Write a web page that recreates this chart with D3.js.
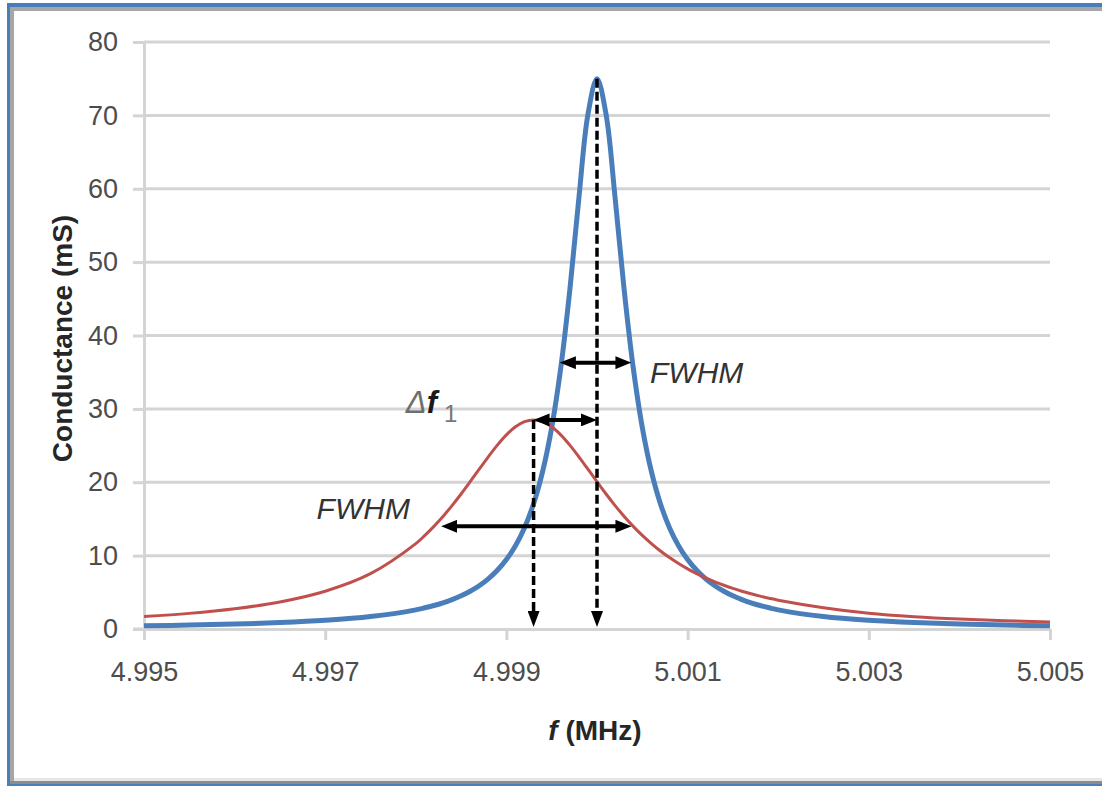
<!DOCTYPE html>
<html>
<head>
<meta charset="utf-8">
<script src="https://cdn.jsdelivr.net/npm/d3@7"></script>
<style>
  html, body { margin: 0; padding: 0; background: #ffffff; }
  svg { display: block; }
  text { font-family: "Liberation Sans", Arial, sans-serif; }
</style>
</head>
<body>
<script>
// Frequency sweep (MHz): coarse in the tails, fine around the resonances
const freq = [
  4.9950, 4.9955, 4.9960, 4.9965, 4.9970, 4.9975,
  4.9980, 4.9981, 4.9982, 4.9983, 4.9984, 4.9985, 4.9986, 4.9987, 4.9988, 4.9989,
  4.9990, 4.9991, 4.9992, 4.9993, 4.9994, 4.9995, 4.9996, 4.9997, 4.9998, 4.9999,
  5.0000, 5.0001, 5.0002, 5.0003, 5.0004, 5.0005, 5.0006, 5.0007, 5.0008, 5.0009,
  5.0010, 5.0011, 5.0012, 5.0013, 5.0014, 5.0015, 5.0016, 5.0017, 5.0018, 5.0019,
  5.0020, 5.0025, 5.0030, 5.0035, 5.0040, 5.0045, 5.0050
];

// Conductance (mS) of the unloaded resonator (blue)
const gUnloaded = [
  0.43, 0.53, 0.67, 0.87, 1.18, 1.69,
  2.61, 2.89, 3.20, 3.57, 4.01, 4.52, 5.15, 5.90, 6.84, 8.00,
  9.46, 11.35, 13.81, 17.07, 21.47, 27.46, 35.58, 46.20, 58.73, 70.14,
  75.00, 70.14, 58.73, 46.20, 35.58, 27.46, 21.47, 17.07, 13.81, 11.35,
  9.46, 8.00, 6.84, 5.90, 5.15, 4.52, 4.01, 3.57, 3.20, 2.89,
  2.61, 1.69, 1.18, 0.87, 0.67, 0.53, 0.43
];

// Conductance (mS) of the loaded resonator (red)
const gLoaded = [
  1.69, 2.13, 2.76, 3.69, 5.15, 7.54,
  11.64, 12.75, 13.99, 15.34, 16.82, 18.40, 20.07, 21.78, 23.47, 25.06,
  26.46, 27.56, 28.26, 28.50, 28.26, 27.56, 26.46, 25.06, 23.47, 21.78,
  20.07, 18.40, 16.82, 15.34, 13.99, 12.75, 11.64, 10.63, 9.73, 8.92,
  8.20, 7.54, 6.96, 6.43, 5.96, 5.53, 5.15, 4.80, 4.48, 4.19,
  3.93, 2.91, 2.15, 1.68, 1.36, 1.14, 0.96
];

// Axis ticks
const xTicks = [4.995, 4.997, 4.999, 5.001, 5.003, 5.005];
const yTicks = [0, 10, 20, 30, 40, 50, 60, 70, 80];

// Resonance markers: peak frequencies and peak heights
const peakUnloaded = { f: 5.0000, g: 75 };
const peakLoaded = { f: 4.9993, g: 28.5 };

// Width arrows (frequency span at a conductance level)
const fwhmUnloaded = { f0: 4.99959, f1: 5.00038, g: 36.3 };
const fwhmLoaded = { f0: 4.99828, f1: 5.00038, g: 14.0 };

const W = 1102, H = 786;
const plot = { left: 144, right: 1050, top: 42, bottom: 629 };

const svg = d3.select("body").append("svg")
  .attr("width", W).attr("height", H);

svg.append("rect").attr("width", W).attr("height", H).attr("fill", "#ffffff");

// Chart frame (selection border)
svg.append("rect").attr("x", 7).attr("y", 3).attr("width", W - 7).attr("height", 4).attr("fill", "#4a7ebb");
svg.append("rect").attr("x", 10).attr("y", 7).attr("width", W - 10).attr("height", 4).attr("fill", "#a6a6a6");
svg.append("rect").attr("x", 7).attr("y", 3).attr("width", 3).attr("height", H - 3).attr("fill", "#4a7ebb");
svg.append("rect").attr("x", 10).attr("y", 7).attr("width", 4).attr("height", 774).attr("fill", "#a6a6a6");
svg.append("rect").attr("x", 14).attr("y", 778).attr("width", W - 14).attr("height", 3).attr("fill", "#e6e6e6");
svg.append("rect").attr("x", 10).attr("y", 781).attr("width", W - 10).attr("height", 3).attr("fill", "#8c8c8c");
svg.append("rect").attr("x", 7).attr("y", 784).attr("width", W - 7).attr("height", 2).attr("fill", "#4a7ebb");

const x = d3.scaleLinear().domain([4.995, 5.005]).range([plot.left, plot.right]);
const y = d3.scaleLinear().domain([0, 80]).range([plot.bottom, plot.top]);

const gridColor = "#d4d4d4";

// Horizontal gridlines
svg.append("g").selectAll("line")
  .data(yTicks.filter(v => v > 0))
  .join("line")
  .attr("x1", plot.left).attr("x2", plot.right)
  .attr("y1", d => y(d)).attr("y2", d => y(d))
  .attr("stroke", gridColor).attr("stroke-width", 3);

// Y axis
const yAxis = svg.append("g")
  .attr("transform", `translate(${plot.left},0)`)
  .call(d3.axisLeft(y).tickValues(yTicks).tickSize(11).tickSizeOuter(0).tickPadding(15).tickFormat(d3.format("d")));
yAxis.select(".domain").attr("stroke", gridColor).attr("stroke-width", 3);
yAxis.selectAll(".tick line").attr("stroke", gridColor).attr("stroke-width", 3);
yAxis.selectAll(".tick text")
  .attr("font-size", 27).attr("fill", "#4d4d4d")
  .attr("font-family", "Liberation Sans, Arial, sans-serif");

// X axis
const xAxis = svg.append("g")
  .attr("transform", `translate(0,${plot.bottom})`)
  .call(d3.axisBottom(x).tickValues(xTicks).tickSize(11).tickSizeOuter(0).tickPadding(22).tickFormat(d3.format(".3f")));
xAxis.select(".domain").attr("stroke", gridColor).attr("stroke-width", 3);
xAxis.selectAll(".tick line").attr("stroke", gridColor).attr("stroke-width", 3);
xAxis.selectAll(".tick text")
  .attr("font-size", 27).attr("fill", "#4d4d4d")
  .attr("font-family", "Liberation Sans, Arial, sans-serif");
// extend x axis line to the left like the gridline ticks
svg.append("line")
  .attr("x1", plot.left - 11).attr("x2", plot.left)
  .attr("y1", plot.bottom).attr("y2", plot.bottom)
  .attr("stroke", gridColor).attr("stroke-width", 3);

// Axis titles
svg.append("text")
  .attr("transform", `translate(72,${(plot.top + plot.bottom) / 2 + 3}) rotate(-90)`)
  .attr("text-anchor", "middle")
  .attr("font-size", 28).attr("font-weight", "bold").attr("fill", "#262626")
  .text("Conductance (mS)");

const xt = svg.append("text")
  .attr("x", (plot.left + plot.right) / 2 - 2).attr("y", 740)
  .attr("text-anchor", "middle")
  .attr("font-size", 28).attr("font-weight", "bold").attr("fill", "#262626");
xt.append("tspan").attr("font-style", "italic").text("f");
xt.append("tspan").text(" (MHz)");

// Curves
const line = (vals) => d3.line()
  .x((d, i) => x(freq[i]))
  .y(d => y(d))
  .curve(d3.curveCatmullRom.alpha(0.5))(vals);

svg.append("clipPath").attr("id", "plotclip")
  .append("rect").attr("x", plot.left - 3).attr("y", plot.top - 10)
  .attr("width", plot.right - plot.left + 6).attr("height", plot.bottom - plot.top + 12);

svg.append("path")
  .attr("d", line(gUnloaded))
  .attr("fill", "none").attr("stroke", "#4a7ebb").attr("stroke-width", 5)
  .attr("stroke-linejoin", "round")
  .attr("clip-path", "url(#plotclip)");

svg.append("path")
  .attr("d", line(gLoaded))
  .attr("fill", "none").attr("stroke", "#c0504d").attr("stroke-width", 3)
  .attr("stroke-linejoin", "round")
  .attr("clip-path", "url(#plotclip)");

// Arrow heads
const defs = svg.append("defs");
defs.append("marker")
  .attr("id", "head").attr("markerUnits", "userSpaceOnUse")
  .attr("viewBox", "0 0 16 13").attr("markerWidth", 16).attr("markerHeight", 13)
  .attr("refX", 1).attr("refY", 6.5).attr("orient", "auto-start-reverse")
  .append("path").attr("d", "M0,0 L16,6.5 L0,13 Z").attr("fill", "#000");
defs.append("marker")
  .attr("id", "headSmall").attr("markerUnits", "userSpaceOnUse")
  .attr("viewBox", "0 0 16 12").attr("markerWidth", 16).attr("markerHeight", 12)
  .attr("refX", 1).attr("refY", 6).attr("orient", "auto")
  .append("path").attr("d", "M0,0 L16,6 L0,12 Z").attr("fill", "#000");

const headLen = 15;

// Dashed drop lines from each peak to the frequency axis
[peakUnloaded, peakLoaded].forEach(p => {
  svg.append("line")
    .attr("x1", x(p.f)).attr("x2", x(p.f))
    .attr("y1", y(p.g)).attr("y2", y(0) - 2 - headLen)
    .attr("stroke", "#000").attr("stroke-width", 3.5)
    .attr("stroke-dasharray", "9,4")
    .attr("marker-end", "url(#headSmall)");
});

// Double-headed horizontal arrows
function hArrow(f0, f1, g) {
  svg.append("line")
    .attr("x1", x(f0) + headLen).attr("x2", x(f1) - headLen)
    .attr("y1", y(g)).attr("y2", y(g))
    .attr("stroke", "#000").attr("stroke-width", 4)
    .attr("marker-start", "url(#head)").attr("marker-end", "url(#head)");
}
hArrow(fwhmUnloaded.f0, fwhmUnloaded.f1, fwhmUnloaded.g);
hArrow(peakLoaded.f, peakUnloaded.f, peakLoaded.g);
hArrow(fwhmLoaded.f0, fwhmLoaded.f1, fwhmLoaded.g);

// Annotation labels
svg.append("text")
  .attr("x", x(5.000585)).attr("y", y(33.5))
  .attr("font-size", 30).attr("font-style", "italic").attr("fill", "#333")
  .text("FWHM");

svg.append("text")
  .attr("x", x(4.996905)).attr("y", y(15.0))
  .attr("font-size", 30).attr("font-style", "italic").attr("fill", "#333")
  .text("FWHM");

const df = svg.append("text")
  .attr("x", x(4.99789)).attr("y", y(29.4))
  .attr("font-size", 31).attr("font-style", "italic");
df.append("tspan").attr("fill", "#6e6e6e").text("Δ");
df.append("tspan").attr("fill", "#1a1a1a").attr("font-weight", "bold").attr("dx", 0).text("f");
df.append("tspan").attr("fill", "#777").attr("font-style", "normal")
  .attr("font-size", 24).attr("dx", 7).attr("dy", 9).text("1");
</script>
</body>
</html>
